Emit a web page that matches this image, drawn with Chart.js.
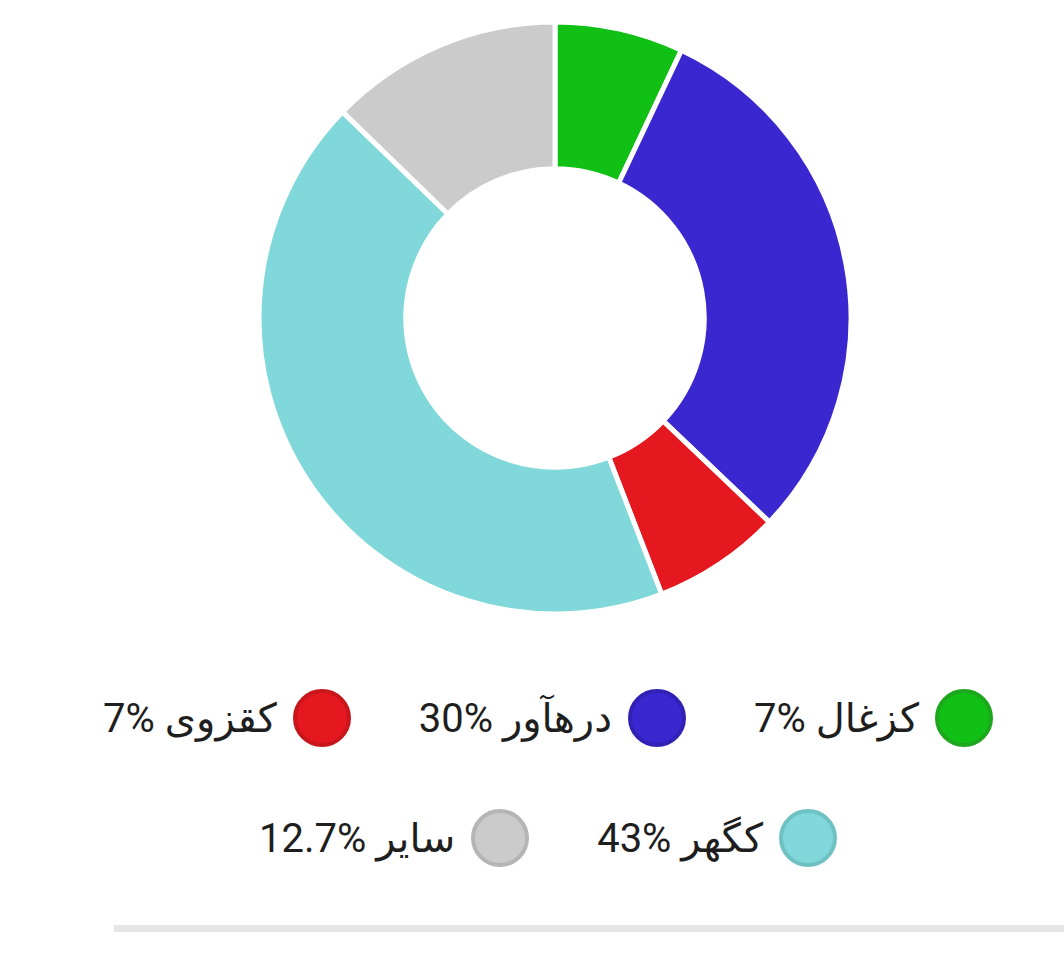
<!DOCTYPE html>
<html>
<head>
<meta charset="utf-8">
<script src="https://cdn.jsdelivr.net/npm/chart.js@4.4.0/dist/chart.umd.min.js"></script>
<style>
  body { margin:0; background:#fff; width:1064px; height:960px; overflow:hidden; position:relative;
         font-family: Roboto, "DejaVu Sans", sans-serif; }
  #wrap { position:absolute; left:255px; top:18px; width:600px; height:600px; }
  #legend { position:absolute; left:32px; width:1032px; top:688px; direction:rtl; }
  .row { display:flex; justify-content:center; gap:68px; height:120px; }
  .item { display:flex; align-items:center; height:60px; }
  .dot { width:50px; height:50px; border-radius:50%; border:4px solid; margin-left:16px; }
  .txt { font-size:40px; color:#1e1e1e; white-space:nowrap; font-weight:400; }
  #line { position:absolute; left:114px; top:925px; width:950px; height:7px; background:#e6e6e6; }
</style>
</head>
<body>
<div id="wrap"><canvas id="grafica"></canvas></div>
<div id="legend"></div>
<div id="line"></div>
<script>
// datos del grafico
var etiquetas = ['کزغال', 'درهآور', 'کقزوی', 'کگهر', 'سایر'];
var valores = [7, 30, 7, 43, 12.7];
var colores = ['#10c014', '#3a27cf', '#e5171f', '#80d8da', '#cbcbcb'];
var bordes = ['#1ea71e', '#3221b5', '#c9161c', '#6fc2c4', '#b5b5b5'];
var filas = [[0, 1, 2], [3, 4]];

var ctx = document.getElementById('grafica');
new Chart(ctx, {
  type: 'doughnut',
  data: {
    labels: etiquetas,
    datasets: [{
      data: valores,
      backgroundColor: colores,
      borderColor: '#ffffff',
      borderWidth: 5,
      hoverOffset: 0
    }]
  },
  options: {
    responsive: true,
    maintainAspectRatio: false,
    animation: false,
    radius: 296,
    cutout: 150,
    layout: { padding: 0 },
    plugins: {
      legend: { display: false },
      tooltip: { enabled: false }
    }
  }
});

// leyenda html
var legend = document.getElementById('legend');
filas.forEach(function(fila){
  var row = document.createElement('div');
  row.className = 'row';
  fila.forEach(function(i){
    var item = document.createElement('div');
    item.className = 'item';
    item.innerHTML = '<span class="dot" style="background:' + colores[i] + ';border-color:' + bordes[i] + '"></span>' +
      '<span class="txt">' + etiquetas[i] + ' <bdi dir="ltr">' + valores[i] + '%</bdi></span>';
    row.appendChild(item);
  });
  legend.appendChild(row);
});
</script>
</body>
</html>
